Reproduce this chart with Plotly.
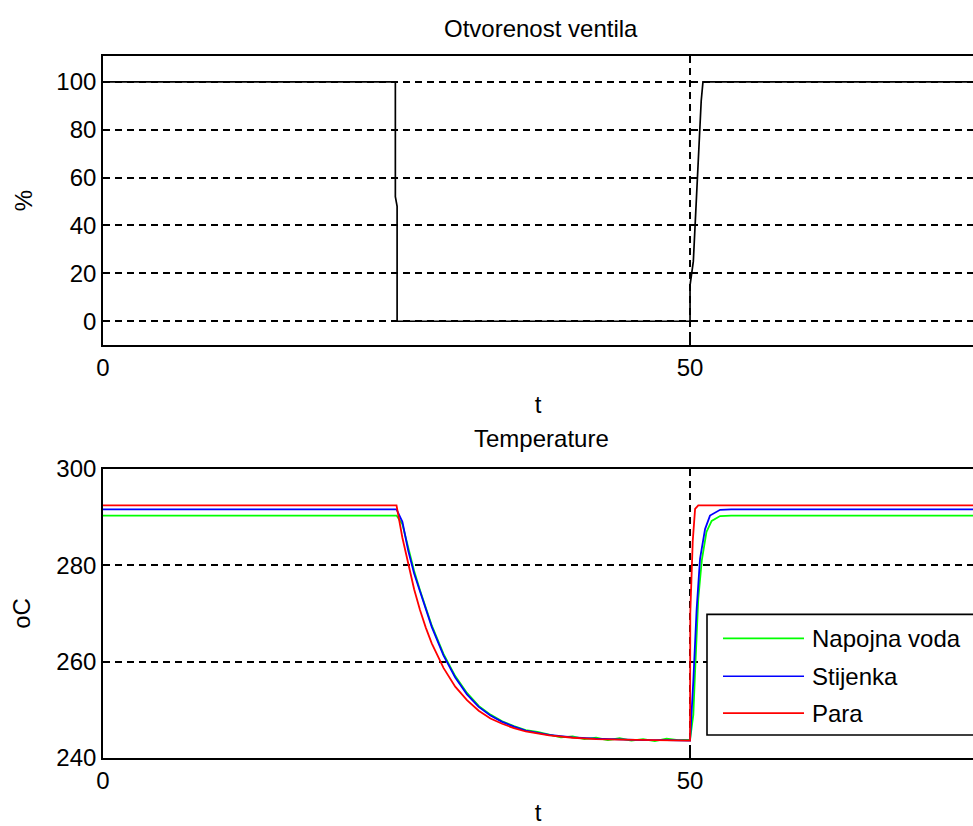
import plotly.graph_objects as go
from plotly.subplots import make_subplots

# ---- data ----
valve_t = [0, 24.9, 24.9, 25.05, 25.05, 50.0, 50.0, 50.28, 50.43, 50.62, 50.8, 50.95, 51.1, 74.1]
valve = [100, 100, 52, 48, 0, 0, 15, 25, 40, 60, 80, 92, 100, 100]

para_t = [0, 25.0, 25.5, 26, 26.5, 27, 27.5, 28, 29, 30, 31, 32, 33, 34, 35, 36, 38, 40, 42, 44, 46, 48,
          50.0, 50.02, 50.23, 50.43, 50.7, 74.1]
para = [292.4, 292.4, 285.7, 280.0, 275.0, 270.7, 267.0, 263.8, 258.7, 254.8, 252.0, 249.8, 248.2, 247.1,
        246.2, 245.5, 244.7, 244.2, 243.9, 243.8, 243.7, 243.6,
        243.6, 270.0, 285.0, 291.7, 292.4, 292.4]

stij_t = [0, 25.0, 25.5, 26, 26.5, 27, 27.5, 28, 29, 30, 31, 32, 33, 34, 35, 36, 38, 40, 42, 44, 46, 48,
          50.0, 50.28, 50.56, 50.85, 51.28, 51.7, 52.56, 53.5, 74.1]
stij = [291.6, 291.6, 289.0, 283.0, 278.3, 274.5, 270.6, 267.2, 261.3, 256.7, 253.2, 250.6, 248.8, 247.5,
        246.5, 245.7, 244.8, 244.3, 244.0, 243.8, 243.7, 243.7,
        243.6, 256.0, 270.8, 281.3, 287.5, 290.3, 291.5, 291.6, 291.6]

voda_t = [0, 25.0, 25.5, 26, 26.5, 27, 27.5, 28, 29, 30, 31, 32, 33, 34, 35, 36, 37, 38, 39, 40, 41, 42,
          43, 44, 45, 46, 47, 48, 49,
          50.0, 50.28, 50.43, 50.7, 51.0, 51.4, 51.84, 52.56, 53.5, 74.1]
voda = [290.3, 290.3, 288.5, 283.5, 278.8, 274.8, 270.9, 267.5, 261.6, 257.0, 253.5, 250.8, 249.0, 247.6,
        246.6, 245.8, 245.4, 244.9, 244.3, 244.5, 243.9, 244.2, 243.7, 244.1, 243.6, 243.9, 243.5, 244.0,
        243.7,
        243.8, 249.0, 258.0, 273.0, 281.0, 286.9, 289.2, 290.2, 290.3, 290.3]

x_ticks = [0, 50]
top_ticks = [0, 20, 40, 60, 80, 100]
bot_ticks = [240, 260, 280, 300]

FONT = "Liberation Sans"
FS = 24

fig = make_subplots(rows=2, cols=1, vertical_spacing=0.0)

fig.add_trace(go.Scatter(x=valve_t, y=valve, mode="lines", line=dict(color="black", width=1.7),
                         showlegend=False), row=1, col=1)
series = [("Napojna voda", voda_t, voda, "#00ff00"),
          ("Stijenka", stij_t, stij, "#0000ff"),
          ("Para", para_t, para, "#ff0000")]
for name, xs, ys, col in series:
    fig.add_trace(go.Scatter(x=xs, y=ys, mode="lines", name=name,
                             line=dict(color=col, width=1.8), showlegend=False), row=2, col=1)

H = 826
top_px, bot_px = 56, 760
ph = bot_px - top_px
pw = 870
d_top = [1 - 290 / ph, 1]
d_bot = [0, 290 / ph]

def px_x(p):
    return (p - 103) / pw

def px_y(p):
    return (bot_px - p) / ph

common_x = dict(range=[0, 74.1], tickvals=x_ticks, ticks="inside", ticklen=7, tickwidth=1.5,
                tickcolor="black", showline=True, linecolor="black", linewidth=1.6, mirror="ticks",
                showgrid=True, gridcolor="black", gridwidth=1.6, griddash="7px,5px",
                zeroline=False, tickfont=dict(family=FONT, size=FS, color="black"),
                title=dict(text="t", font=dict(family=FONT, size=FS, color="black"), standoff=16))
common_y = dict(ticks="inside", ticklen=7, tickwidth=1.5, tickcolor="black", showline=True,
                linecolor="black", linewidth=1.6, mirror=False,
                showgrid=True, gridcolor="black", gridwidth=1.6, griddash="7px,5px",
                zeroline=False, tickfont=dict(family=FONT, size=FS, color="black"))

fig.update_xaxes(**common_x, row=1, col=1)
fig.update_xaxes(**common_x, row=2, col=1)
fig.update_yaxes(**common_y, range=[-10, 110.8], tickvals=top_ticks, domain=d_top,
                 title=dict(text="%", font=dict(family=FONT, size=FS, color="black"), standoff=17),
                 row=1, col=1)
fig.update_yaxes(**common_y, range=[240, 300], tickvals=bot_ticks, domain=d_bot,
                 title=dict(text="oC", font=dict(family=FONT, size=FS, color="black"), standoff=19),
                 row=2, col=1)

fig.add_annotation(text="Otvorenost ventila", xref="paper", yref="paper", x=px_x(541),
                   y=px_y(28), xanchor="center", yanchor="middle", showarrow=False,
                   font=dict(family=FONT, size=FS, color="black"))
fig.add_annotation(text="Temperature", xref="paper", yref="paper", x=px_x(541),
                   y=px_y(440), xanchor="center", yanchor="middle", showarrow=False,
                   font=dict(family=FONT, size=FS, color="black"))

# legend box (drawn like the reference, extending past the right edge)
fig.add_shape(type="rect", xref="paper", yref="paper", x0=px_x(707), x1=px_x(1000),
              y0=px_y(737), y1=px_y(616), line=dict(color="black", width=1.6),
              fillcolor="white", layer="above")
for i, (name, xs, ys, col) in enumerate(series):
    yy = px_y([640, 678, 715][i])
    fig.add_shape(type="line", xref="paper", yref="paper", x0=px_x(723), x1=px_x(804),
                  y0=yy, y1=yy, line=dict(color=col, width=1.6), layer="above")
    fig.add_annotation(text=name, xref="paper", yref="paper", x=px_x(810), y=yy,
                       xanchor="left", yanchor="middle", showarrow=False,
                       font=dict(family=FONT, size=FS, color="black"))

fig.update_layout(
    width=973, height=H,
    margin=dict(l=103, r=0, t=top_px, b=H - bot_px),
    paper_bgcolor="white", plot_bgcolor="white",
    font=dict(family=FONT, size=FS, color="black"),
    showlegend=False,
)

fig.write_html("out.html")
